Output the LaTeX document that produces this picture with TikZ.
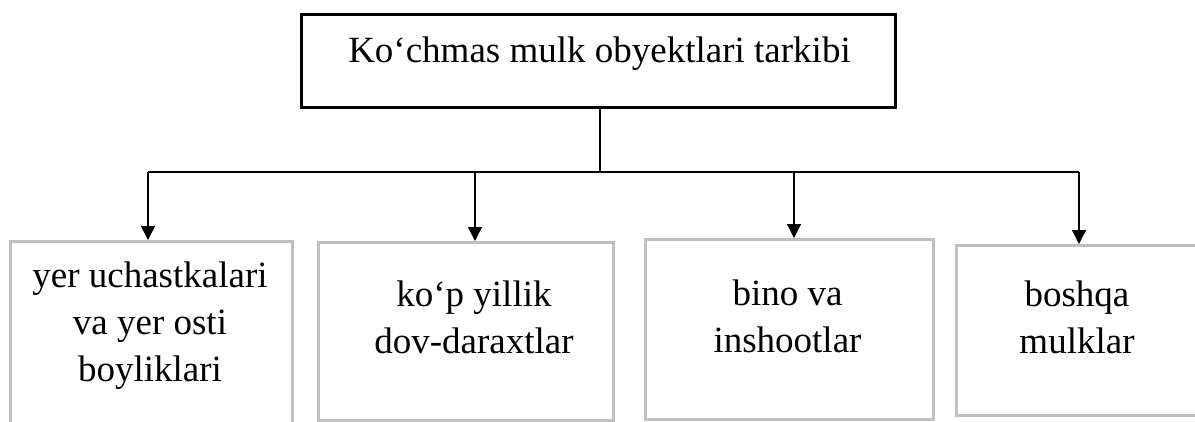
\documentclass[tikz,border=0pt]{standalone}
\usepackage{fontspec}
\setmainfont{Liberation Serif}
\usetikzlibrary{arrows.meta}
\definecolor{framegrey}{HTML}{C0C0C0}
\tikzset{
  headbox/.style={draw=black, line width=3pt, rectangle, minimum width=594pt,
    minimum height=93pt, inner sep=0pt},
  leafbox/.style={draw=framegrey, line width=2.5pt, rectangle, inner sep=0pt,
    anchor=north west},
  caption/.style={font=\fontsize{37}{47}\selectfont, align=center, inner sep=0pt},
  trunk/.style={line width=2.5pt},
  branch/.style={line width=1.3pt, -{Triangle[width=14pt,length=14pt]}},
}
\begin{document}
\begin{tikzpicture}[x=1pt, y=-1pt]
  \useasboundingbox (0,0) rectangle (1195,421);
  \fill[white] (0,0) rectangle (1195,421);
  \clip (0,0) rectangle (1195,421);

  % heading box
  \node[headbox] (top) at (598,60.5) {};
  \node[caption] (toptxt) at (599.5,52.6) {\strut Ko‘chmas mulk obyektlari tarkibi};

  % the four category boxes
  \node[leafbox, minimum width=282pt, minimum height=200pt] (b1) at (9,240) {};
  \node[leafbox, minimum width=295pt, minimum height=178pt] (b2) at (317,241) {};
  \node[leafbox, minimum width=288pt, minimum height=180pt] (b3) at (644,238) {};
  \node[leafbox, minimum width=260pt, minimum height=170pt] (b4) at (955,244) {};

  \node[caption] (t1) at (150,324.6) {\strut yer uchastkalari\\ \strut va yer osti\\ \strut boyliklari};
  \node[caption] (t2) at (474,321) {\strut ko‘p yillik\\ \strut dov-daraxtlar};
  \node[caption] (t3) at (787.5,319.6) {\strut bino va\\ \strut inshootlar};
  \node[caption] (t4) at (1077,320.6) {\strut boshqa\\ \strut mulklar};

  % connector tree
  \coordinate (j)  at (600,172);
  \coordinate (a1) at (148,172);
  \coordinate (a2) at (475,172);
  \coordinate (a3) at (794,172);
  \coordinate (a4) at (1079,172);

  \draw[trunk] (j |- top.south) -- (j);
  \draw[trunk] (a1) -- (a4);
  \draw[branch] (a1) -- (a1 |- b1.north);
  \draw[branch] (a2) -- (a2 |- b2.north);
  \draw[branch] (a3) -- (a3 |- b3.north);
  \draw[branch] (a4) -- (a4 |- b4.north);
\end{tikzpicture}
\end{document}
